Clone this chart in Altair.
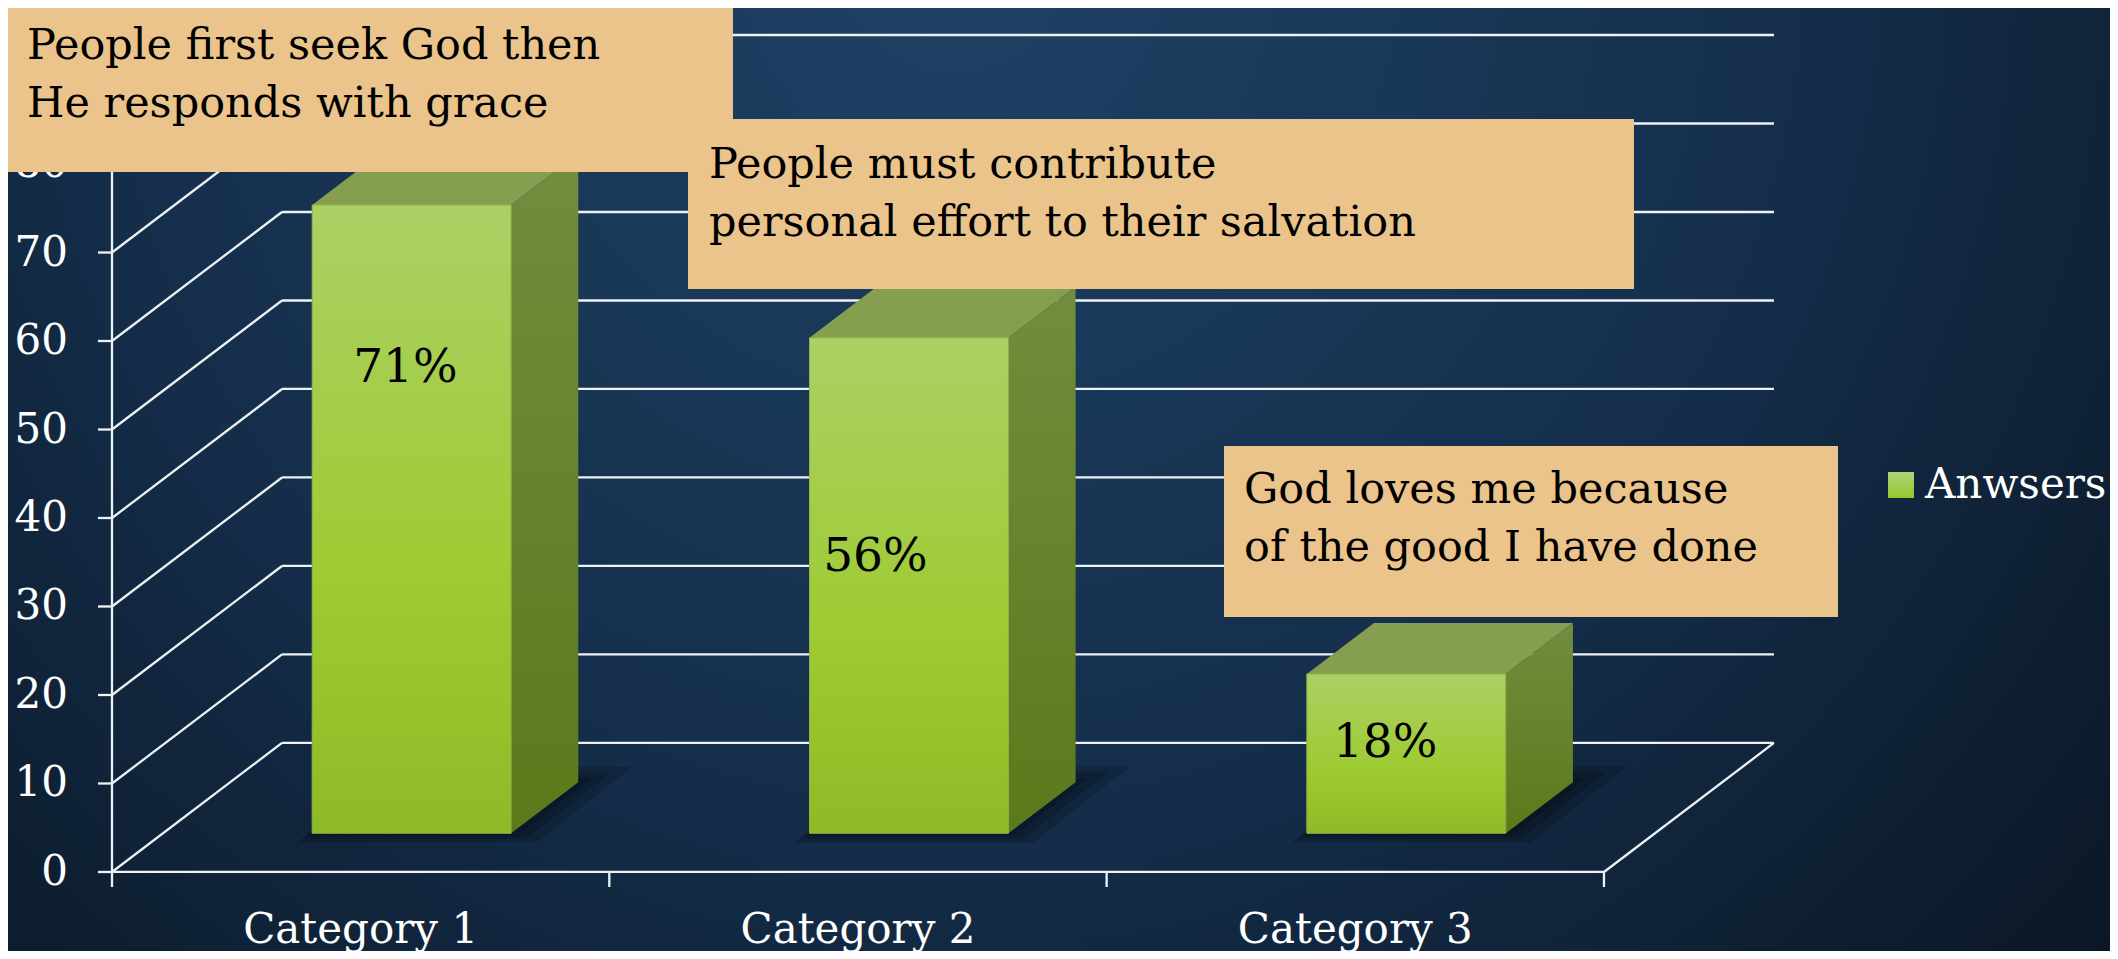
import altair as alt
import pandas as pd

# ---------------- data ----------------
categories = ["Category 1", "Category 2", "Category 3"]
values = [71, 56, 18]
value_labels = ["71%", "56%", "18%"]
series_name = "Anwsers"
y_ticks = [0, 10, 20, 30, 40, 50, 60, 70, 80]
y_tick_labels = ["0", "10", "20", "30", "40", "50", "60", "70", "80"]
x_ticks = [0, 1, 2, 3]
callout_texts = [
    "People first seek God then\nHe responds with grace",
    "People must contribute\npersonal effort to their salvation",
    "God loves me because\nof the good I have done",
]

# ---------------- layout / style ----------------
FONT = "DejaVu Serif"
W, H = 2102, 943
X_DOMAIN = [-0.2091, 4.0175]      # category-band units
Y_DOMAIN = [-8.93, 97.63]         # value units
DX, DY = 0.3418, 14.58            # 3D depth vector (band units, value units)
BAR_FRONT, BAR_BACK, BAR_HALF = 0.30, 0.695, 0.20
TICK_X, TICK_Y = 0.0282, 1.7      # tick lengths in band / value units
LINE = "#eef2f5"
SHADOW_STEPS = [(0.012, 0.5), (0.03, 1.1), (0.05, 1.8)]
# data-label anchor points (band units, value units)
label_anchor_x = [0.59, 1.535, 2.56]
label_anchor_y = [56.9, 35.6, 14.6]
# callout boxes in pixels: (x0, y0, x1, y1, text_x, text_cy)
callout_boxes = [
    (0, 0, 725, 164, 19, 38),
    (680, 111, 1626, 281, 701, 157),
    (1216, 438, 1830, 609, 1236, 482),
]

xs = alt.Scale(domain=X_DOMAIN, nice=False, zero=False)
ys = alt.Scale(domain=Y_DOMAIN, nice=False, zero=False)


def X(f):
    return alt.X(f, type="quantitative", scale=xs, axis=None, title=None)


def Y(f):
    return alt.Y(f, type="quantitative", scale=ys, axis=None, title=None)


# ---------------- background ----------------
bg_grad = {"gradient": "radial", "x1": 0.45, "y1": 0.25, "r1": 0,
           "x2": 0.45, "y2": 0.25, "r2": 0.78,
           "stops": [{"offset": 0, "color": "#1f4266"},
                     {"offset": 0.5, "color": "#152f4c"},
                     {"offset": 1, "color": "#09131f"}]}
bg = alt.Chart(pd.DataFrame({"a": [0]})).mark_rect(fill=bg_grad).encode(
    x=alt.value(0), x2=alt.value(W), y=alt.value(0), y2=alt.value(H))

# ---------------- walls / floor lines / ticks ----------------
rows = []
for v in y_ticks:
    rows.append(dict(x=DX, x2=3 + DX, y=v + DY, y2=v + DY))   # back wall
    rows.append(dict(x=0, x2=DX, y=v, y2=v + DY))             # left wall
    rows.append(dict(x=-TICK_X, x2=0, y=v, y2=v))             # y tick
for t in x_ticks:
    rows.append(dict(x=t, x2=t, y=0, y2=-TICK_Y))             # x tick
rows.append(dict(x=0, x2=0, y=0, y2=max(y_ticks)))            # front vertical
rows.append(dict(x=0, x2=3, y=0, y2=0))                       # front floor edge
rows.append(dict(x=3, x2=3 + DX, y=0, y2=DY))                 # right floor edge
lines_df = pd.DataFrame(rows)

lines = alt.Chart(lines_df).mark_rule(color=LINE, strokeWidth=2.3).encode(
    x=X("x"), x2="x2", y=Y("y"), y2="y2"
)

ytl_df = pd.DataFrame({"v": y_ticks, "lab": y_tick_labels, "x": [0] * len(y_ticks)})
y_labels = alt.Chart(ytl_df).mark_text(
    font=FONT, fontSize=42, color="white", align="right", baseline="middle", dx=-44
).encode(x=X("x"), y=Y("v"), text="lab:N")

# ---------------- bars ----------------
front_rows, side_rows, top_rows, shadow_rows = [], [], [], []
for i, (c, v) in enumerate(zip(categories, values)):
    cx = i + 0.5
    xl0 = cx - BAR_HALF + BAR_FRONT * DX
    xr0 = cx + BAR_HALF + BAR_FRONT * DX
    sh = (BAR_BACK - BAR_FRONT) * DX
    xl1, xr1 = xl0 + sh, xr0 + sh
    yb0 = BAR_FRONT * DY
    yb1 = BAR_BACK * DY
    front_rows.append(dict(bar=c, x=xl0, x2=xr0, y=yb0, y2=v + yb0))
    side_rows.append(dict(bar=c, x=xr0, y=yb0, y2=v + yb0))
    side_rows.append(dict(bar=c, x=xr1, y=yb1, y2=v + yb1))
    top_rows.append(dict(bar=c, y=v + yb0, x=xl0, x2=xr0))
    top_rows.append(dict(bar=c, y=v + yb1, x=xl1, x2=xr1))
    for k, (ex, ey) in enumerate(SHADOW_STEPS):
        sid = f"{c}-{k}"
        shadow_rows.append(dict(s=sid, y=yb0 - ey * 0.6, x=xl0 - ex * 0.6, x2=xr0 + ex))
        shadow_rows.append(dict(s=sid, y=yb1 + ey, x=xl1, x2=xr1 + ex * 2.2))

front_grad = {"gradient": "linear", "x1": 0, "y1": 0, "x2": 0, "y2": 1,
              "stops": [{"offset": 0, "color": "#abd065"},
                        {"offset": 0.6, "color": "#9ecb31"},
                        {"offset": 1, "color": "#8fba27"}]}
side_grad = {"gradient": "linear", "x1": 0, "y1": 0, "x2": 0, "y2": 1,
             "stops": [{"offset": 0, "color": "#728d3e"},
                       {"offset": 1, "color": "#5a7a1b"}]}

shadow = alt.Chart(pd.DataFrame(shadow_rows)).mark_area(
    orient="horizontal", fill="#000000", fillOpacity=0.16
).encode(y=Y("y"), x=X("x"), x2="x2", detail="s:N")

front = alt.Chart(pd.DataFrame(front_rows)).mark_rect(
    fill=front_grad, stroke="#8fb246", strokeWidth=1
).encode(x=X("x"), x2="x2", y=Y("y"), y2="y2")

side = alt.Chart(pd.DataFrame(side_rows)).mark_area(
    orient="vertical", fill=side_grad
).encode(x=X("x"), y=Y("y"), y2="y2", detail="bar:N")

top = alt.Chart(pd.DataFrame(top_rows)).mark_area(
    orient="horizontal", fill="#859e4f"
).encode(y=Y("y"), x=X("x"), x2="x2", detail="bar:N")

# ---------------- value labels ----------------
lab_df = pd.DataFrame({"label": value_labels, "x": label_anchor_x, "y": label_anchor_y})
labels = alt.Chart(lab_df).mark_text(
    font=FONT, fontSize=47, color="black", align="center", baseline="middle"
).encode(x=X("x"), y=Y("y"), text="label:N")

# ---------------- category labels ----------------
cat_df = pd.DataFrame({"cat": categories, "x": [i + 0.5 for i in range(len(categories))]})
cat_labels = alt.Chart(cat_df).mark_text(
    font=FONT, fontSize=42, color="white", align="center", baseline="middle"
).encode(x=X("x"), y=alt.value(922), text="cat:N")

# ---------------- callouts ----------------
callouts = []
for txt, (bx0, by0, bx1, by1, tx, ty) in zip(callout_texts, callout_boxes):
    d = pd.DataFrame({"t": [txt]})
    callouts.append(alt.Chart(d).mark_rect(fill="#eac48a").encode(
        x=alt.value(bx0), x2=alt.value(bx1), y=alt.value(by0), y2=alt.value(by1)))
    callouts.append(alt.Chart(d).mark_text(
        font=FONT, fontSize=43, color="black", align="left", baseline="middle",
        lineBreak="\n", lineHeight=58).encode(
        x=alt.value(tx), y=alt.value(ty), text="t:N"))

# ---------------- legend ----------------
leg_df = pd.DataFrame({"s": [series_name]})
leg_grad = {"gradient": "linear", "x1": 0, "y1": 0, "x2": 0, "y2": 1,
            "stops": [{"offset": 0, "color": "#b0d47a"},
                      {"offset": 1, "color": "#97c62a"}]}
leg_sq = alt.Chart(leg_df).mark_rect(fill=leg_grad).encode(
    x=alt.value(1880), x2=alt.value(1906), y=alt.value(464), y2=alt.value(490))
leg_txt = alt.Chart(leg_df).mark_text(
    font=FONT, fontSize=42, color="white", align="left", baseline="middle").encode(
    x=alt.value(1917), y=alt.value(477), text="s:N")

chart = alt.layer(
    bg, lines, y_labels, shadow, top, side, front, labels, cat_labels, *callouts,
    leg_sq, leg_txt
).properties(
    width=W, height=H, padding=0,
    autosize=alt.AutoSizeParams(type="none"),
    background="#0f2035",
).configure_view(stroke=None)

chart.save("out.html", embed_options={"renderer": "svg", "actions": False})
